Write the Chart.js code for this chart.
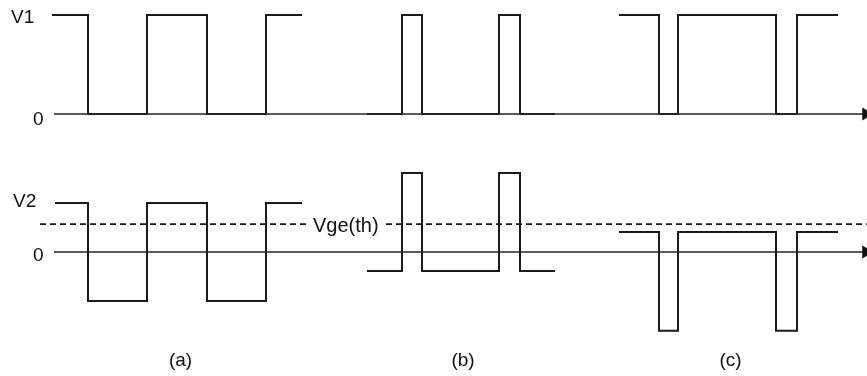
<!DOCTYPE html>
<html>
<head>
<meta charset="utf-8">
<script src="https://cdn.jsdelivr.net/npm/chart.js@4"></script>
<style>
  body { margin: 0; background: #fff; }
  canvas { display: block; }
</style>
</head>
<body>
<canvas id="wave" width="867" height="376"></canvas>
<script>
/* waveform data: times where each level starts, and the level */
const panelLabels = ['(a)', '(b)', '(c)'];
const topTickLabels = ['V1', '0'];
const topTickValues = [1, 0];
const bottomTickLabels = ['V2', '0'];
const bottomTickValues = [1, 0];
const thresholdLabel = 'Vge(th)';
const threshold = 0.57;

const v1aT = [52, 88, 147, 207, 266, 302];
const v1aV = [1, 0, 1, 0, 1, 1];
const v1bT = [367, 402, 422, 499, 520, 555];
const v1bV = [0, 1, 0, 1, 0, 0];
const v1cT = [619, 659, 678, 776, 797, 838];
const v1cV = [1, 0, 1, 0, 1, 1];

const v2aT = [55, 88, 147, 207, 266, 302];
const v2aV = [1, -1, 1, -1, 1, 1];
const v2bT = [367, 402, 422, 499, 520, 555];
const v2bV = [-0.39, 1.61, -0.39, 1.61, -0.39, -0.39];
const v2cT = [619, 659, 678, 776, 797, 838];
const v2cV = [0.41, -1.61, 0.41, -1.61, 0.41, 0.41];

const axisT = [54, 866];
const threshT = [40, 310, null, 386, 867];

function pts(t, v) {
  return t.map((x, i) => ({ x: x, y: v[i] }));
}

function wave(t, v, axis) {
  return {
    data: pts(t, v),
    yAxisID: axis,
    stepped: true,
    borderColor: '#1a1a1a',
    borderWidth: 2,
    pointRadius: 0,
    fill: false
  };
}

function zeroAxis(axis) {
  return {
    data: axisT.map(x => ({ x: x, y: 0 })),
    yAxisID: axis,
    borderColor: '#262626',
    backgroundColor: '#111',
    borderWidth: 1.3,
    pointStyle: 'triangle',
    pointRotation: 90,
    pointRadius: [0, 7.5],
    pointBorderWidth: 0,
    fill: false
  };
}

/* draws the text labels: tick names, threshold name, panel names */
const labelPlugin = {
  id: 'labels',
  afterDatasetsDraw(chart) {
    const c = chart.ctx;
    const yT = chart.scales.yTop;
    const yB = chart.scales.yBot;
    const x = chart.scales.x;
    c.save();
    c.fillStyle = '#111';
    c.font = '19px "Liberation Sans", Arial, sans-serif';
    c.textAlign = 'left';
    c.textBaseline = 'middle';
    topTickLabels.forEach((s, i) => {
      const zero = topTickValues[i] === 0;
      c.fillText(s, zero ? 33 : 11, yT.getPixelForValue(topTickValues[i]) + (zero ? 6 : 2.5));
    });
    bottomTickLabels.forEach((s, i) => {
      const zero = bottomTickValues[i] === 0;
      c.fillText(s, zero ? 33 : 13, yB.getPixelForValue(bottomTickValues[i]) + (zero ? 4 : -1));
    });
    c.font = '20px "Liberation Sans", Arial, sans-serif';
    c.fillText(thresholdLabel, 313, yB.getPixelForValue(threshold) + 2);
    c.font = '19px "Liberation Sans", Arial, sans-serif';
    c.textAlign = 'center';
    const groups = [v2aT, v2bT, v2cT];
    panelLabels.forEach((s, i) => {
      const g = groups[i];
      const mid = (g[0] + g[g.length - 1]) / 2;
      c.fillText(s, x.getPixelForValue(mid) + 2, 361);
    });
    c.restore();
  }
};

window.onload = function () {
  const ctx = document.getElementById('wave').getContext('2d');

  new Chart(ctx, {
    type: 'line',
    data: {
      datasets: [
        zeroAxis('yTop'),
        zeroAxis('yBot'),
        {
          data: threshT.map(x => x === null ? { x: 350, y: null } : { x: x, y: threshold }),
          yAxisID: 'yBot',
          borderColor: '#1a1a1a',
          borderWidth: 1.8,
          borderDash: [6, 4],
          pointRadius: 0,
          spanGaps: false,
          fill: false
        },
        wave(v1aT, v1aV, 'yTop'),
        wave(v1bT, v1bV, 'yTop'),
        wave(v1cT, v1cV, 'yTop'),
        wave(v2aT, v2aV, 'yBot'),
        wave(v2bT, v2bV, 'yBot'),
        wave(v2cT, v2cV, 'yBot')
      ]
    },
    options: {
      responsive: false,
      animation: false,
      clip: false,
      layout: { padding: 0, autoPadding: false },
      plugins: {
        legend: { display: false },
        tooltip: { enabled: false }
      },
      scales: {
        x: { type: 'linear', min: 0, max: 867, display: false },
        yTop: { type: 'linear', min: -2.646, max: 1.1515, display: false },
        yBot: { type: 'linear', min: -2.531, max: 5.143, display: false }
      }
    },
    plugins: [labelPlugin]
  });
};
</script>
</body>
</html>
